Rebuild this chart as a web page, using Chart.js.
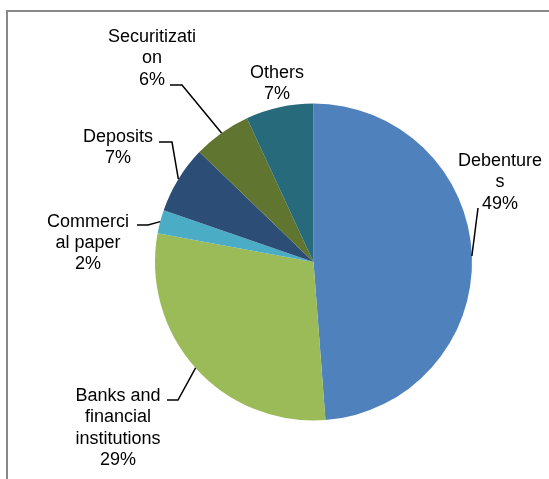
<!DOCTYPE html>
<html>
<head>
<meta charset="utf-8">
<script src="https://cdn.jsdelivr.net/npm/chart.js@4"></script>
<style>
    html, body { margin: 0; padding: 0; background: #fff; overflow: hidden; }
    canvas { display: block; }
</style>
</head>
<body>
<canvas id="pie-chart" width="549" height="479"></canvas>
<script>
// 数据：各融资来源占比（%）
const categories = ['Debentures', 'Banks and financial institutions', 'Commercial paper', 'Deposits', 'Securitization', 'Others'];
const shares = [48.8, 29.1, 2.4, 6.9, 5.9, 6.9];
// 标签换行方式照原图
const labelLines = [
    ['Debenture', 's'],
    ['Banks and', 'financial', 'institutions'],
    ['Commerci', 'al paper'],
    ['Deposits'],
    ['Securitizati', 'on'],
    ['Others']
];

const sliceColors = ['#4F81BD', '#9BBB59', '#4BACC6', '#2C4D75', '#5F7530', '#276A7B'];

// 标签位置：文字中心 x、首行基线 y、引线起点（文字侧）
const labelPlacement = [
    { x: 500, y: 166, leader: [[478, 208]] },
    { x: 118, y: 401, leader: [[167, 400], [178, 400]] },
    { x: 88,  y: 226.5, leader: [[137, 225], [148, 225]] },
    { x: 118, y: 141.5, leader: [[159, 142], [172, 142]] },
    { x: 152, y: 42, leader: [[170, 85], [182, 85]] },
    { x: 277, y: 77.5, leader: null }
];
const lineHeight = 21.4;

// 外框（左、上两条灰线）
const framePlugin = {
    id: 'frame',
    beforeDraw(chart) {
        const ctx = chart.ctx;
        ctx.save();
        ctx.strokeStyle = '#888888';
        ctx.lineWidth = 2;
        ctx.beginPath();
        ctx.moveTo(7, chart.height + 2);
        ctx.lineTo(7, 11);
        ctx.lineTo(chart.width + 2, 11);
        ctx.stroke();
        ctx.restore();
    }
};

// 数据标签和引线
const labelPlugin = {
    id: 'sliceLabels',
    afterDraw(chart) {
        const ctx = chart.ctx;
        const arcs = chart.getDatasetMeta(0).data;
        ctx.save();
        ctx.font = '18px "Liberation Sans", Arial, sans-serif';
        ctx.fillStyle = '#000';
        ctx.textAlign = 'center';
        ctx.textBaseline = 'alphabetic';

        arcs.forEach((arc, i) => {
            const place = labelPlacement[i];
            const lines = labelLines[i].concat(Math.round(shares[i]) + '%');
            lines.forEach((txt, k) => {
                ctx.fillText(txt, place.x, place.y + k * lineHeight);
            });

            if (place.leader) {
                const p = arc.getProps(['x', 'y', 'startAngle', 'endAngle', 'outerRadius'], true);
                const mid = (p.startAngle + p.endAngle) / 2;
                const ex = p.x + p.outerRadius * Math.cos(mid);
                const ey = p.y + p.outerRadius * Math.sin(mid);
                ctx.strokeStyle = '#000';
                ctx.lineWidth = 1.5;
                ctx.beginPath();
                ctx.moveTo(place.leader[0][0], place.leader[0][1]);
                for (let j = 1; j < place.leader.length; j++) {
                    ctx.lineTo(place.leader[j][0], place.leader[j][1]);
                }
                ctx.lineTo(ex, ey);
                ctx.stroke();
            }
        });
        ctx.restore();
    }
};

new Chart(document.getElementById('pie-chart'), {
    type: 'pie',
    data: {
        labels: categories,
        datasets: [{
            data: shares,
            backgroundColor: sliceColors,
            borderWidth: 0
        }]
    },
    options: {
        responsive: false,
        animation: false,
        devicePixelRatio: 1,
        layout: {
            padding: { left: 155, right: 77, top: 103.5, bottom: 58.5 }
        },
        plugins: {
            legend: { display: false },
            tooltip: { enabled: false }
        }
    },
    plugins: [framePlugin, labelPlugin]
});
</script>
</body>
</html>
